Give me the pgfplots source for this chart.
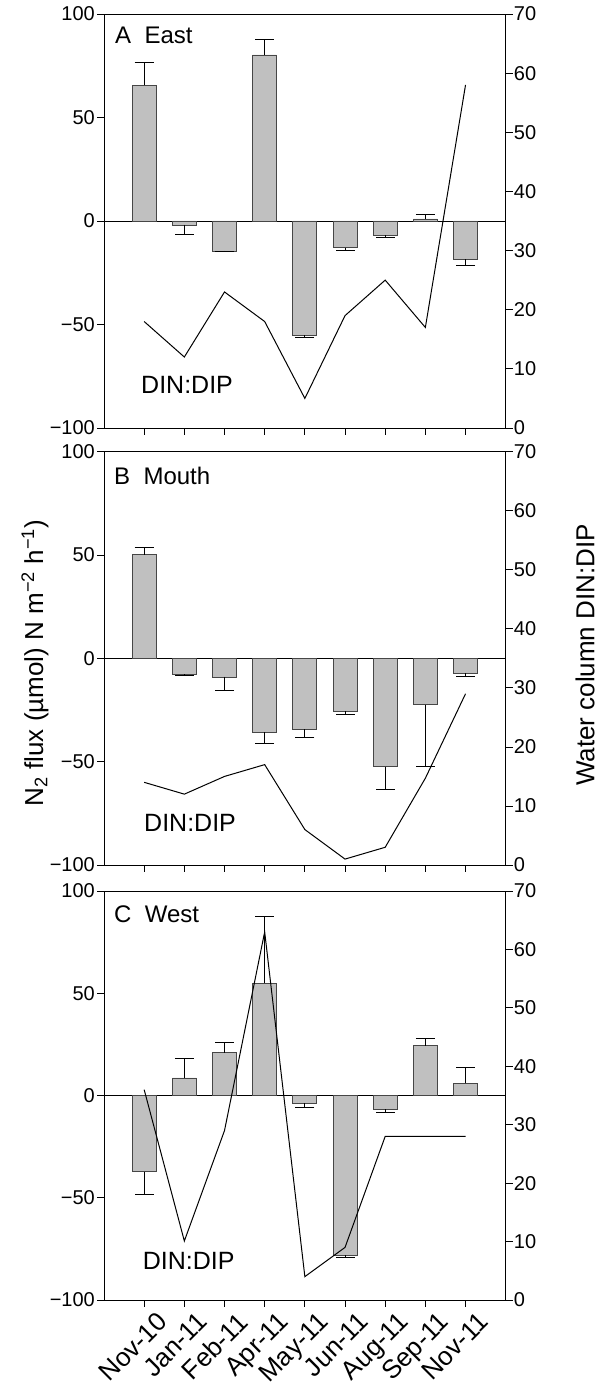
\documentclass[border=0pt]{standalone}
\usepackage{fontspec}
\setmainfont{Liberation Sans}
\usepackage{pgfplots}
\pgfplotsset{compat=1.18}
\definecolor{barfill}{RGB}{192,192,192}
\definecolor{baredge}{RGB}{70,70,70}
\pgfplotsset{
  common/.style={
    anchor=south west, scale only axis, width=401.7pt,
    xmin=-1, xmax=9, xtick={0,...,8},
    tick align=outside, major tick length=7pt,
    tick style={black, line width=0.8pt},
    axis line style={black, line width=0.8pt},
    /pgf/number format/assume math mode=true,
    tick label style={font=\fontsize{20}{20}\selectfont},
    clip=false,
  },
  leftax/.style={common,
    ymin=-100, ymax=100, ytick={-100,-50,0,50,100},
    yticklabels={−100,−50,0,50,100},
    ytick pos=left, xtick pos=bottom, xticklabels={},
    yticklabel style={inner sep=2pt},
  },
  rightax/.style={common,
    ymin=0, ymax=70, ytick={0,10,...,70},
    hide x axis, axis y line*=right,
    yticklabel style={inner sep=1pt},
  },
  posbar/.style={ybar, bar width=24pt, bar shift=0pt, fill=barfill, draw=baredge, line width=0.8pt,
    error bars/.cd, y dir=plus, y explicit, error mark=-,
    error bar style={black, line width=0.8pt},
    error mark options={rotate=90, black, mark size=9.5pt, line width=0.8pt}},
  negbar/.style={ybar, bar width=24pt, bar shift=0pt, fill=barfill, draw=baredge, line width=0.8pt,
    error bars/.cd, y dir=minus, y explicit, error mark=-,
    error bar style={black, line width=0.8pt},
    error mark options={rotate=90, black, mark size=9.5pt, line width=0.8pt}},
  dinline/.style={black, line width=1pt, mark=none},
}
\newcommand{\plab}{\fontsize{24}{24}\selectfont}
\newcommand{\dlab}{\fontsize{25}{25}\selectfont}
\begin{document}
\begin{tikzpicture}
\useasboundingbox (0,0) rectangle (600pt,1389pt);
% ---------------- Panel A
\begin{axis}[leftax, at={(104pt,961pt)}, height=414pt]
\draw[black, line width=0.8pt] (axis cs:-1,0) -- (axis cs:9,0);
\addplot[posbar] table[x=x,y=y,y error=e]{
x y e
0 65.5 11.3
3 80.2 7.5
7 1.0 2.2
};
\addplot[negbar] table[x=x,y=y,y error=e]{
x y e
1 -1.9 4.6
2 -14.5 0
4 -55.3 0.7
5 -12.9 1.3
6 -6.8 0.9
8 -18.5 3.1
};
\node[anchor=base west, font=\plab, inner sep=0pt, xshift=11pt, yshift=-29.3pt] at (rel axis cs:0,1) {A\ \ East};
\node[anchor=base west, font=\dlab, inner sep=0pt, xshift=37pt, yshift=34.7pt] at (rel axis cs:0,0) {DIN:DIP};
\end{axis}
\begin{axis}[rightax, at={(104pt,961pt)}, height=414pt]
\addplot[dinline] coordinates {(0,18) (1,12) (2,23) (3,18) (4,5) (5,19) (6,25) (7,17) (8,58)};
\end{axis}
% ---------------- Panel B
\begin{axis}[leftax, at={(104pt,524pt)}, height=413.3pt]
\draw[black, line width=0.8pt] (axis cs:-1,0) -- (axis cs:9,0);
\addplot[posbar] table[x=x,y=y,y error=e]{
x y e
0 50.2 3.3
};
\addplot[negbar] table[x=x,y=y,y error=e]{
x y e
1 -7.7 0.5
2 -9.0 6.6
3 -35.8 5.3
4 -34.2 4.0
5 -25.5 1.6
6 -52.4 11.1
7 -22.4 29.7
8 -7.3 1.4
};
\node[anchor=base west, font=\plab, inner sep=0pt, xshift=10pt, yshift=-33.3pt] at (rel axis cs:0,1) {B\ \ Mouth};
\node[anchor=base west, font=\dlab, inner sep=0pt, xshift=40pt, yshift=33.3pt] at (rel axis cs:0,0) {DIN:DIP};
\end{axis}
\begin{axis}[rightax, at={(104pt,524pt)}, height=413.3pt]
\addplot[dinline] coordinates {(0,14) (1,12) (2,15) (3,17) (4,6) (5,1) (6,3) (7,14.7) (8,29)};
\end{axis}
% ---------------- Panel C
\begin{axis}[leftax, at={(104pt,89pt)}, height=409pt,
  xticklabels={Nov-10,Jan-11,Feb-11,Apr-11,May-11,Jun-11,Aug-11,Sep-11,Nov-11},
  xticklabel style={rotate=45, anchor=north east, inner sep=1pt, xshift=7pt, yshift=-10pt, font=\fontsize{26}{26}\selectfont}]
\draw[black, line width=0.8pt] (axis cs:-1,0) -- (axis cs:9,0);
\addplot[posbar] table[x=x,y=y,y error=e]{
x y e
1 8.6 9.7
2 20.9 4.9
3 54.8 32.7
7 24.3 3.7
8 5.9 7.6
};
\addplot[negbar] table[x=x,y=y,y error=e]{
x y e
0 -37.2 11.0
4 -3.9 2.1
5 -78.1 1.3
6 -6.7 1.4
};
\node[anchor=base west, font=\plab, inner sep=0pt, xshift=10pt, yshift=-31.3pt] at (rel axis cs:0,1) {C\ \ West};
\node[anchor=base west, font=\dlab, inner sep=0pt, xshift=38.7pt, yshift=30.7pt] at (rel axis cs:0,0) {DIN:DIP};
\end{axis}
\begin{axis}[rightax, at={(104pt,89pt)}, height=409pt]
\addplot[dinline] coordinates {(0,36) (1,10.1) (2,29) (3,63) (4,4) (5,9) (6,28) (7,28) (8,28)};
\end{axis}
% axis titles
\node[rotate=90, font=\fontsize{26}{26}\selectfont] at (35pt,726pt) {N\textsubscript{2} flux (µmol) N m\textsuperscript{−2} h\textsuperscript{−1})};
\node[rotate=90, font=\fontsize{26}{26}\selectfont] at (585pt,734pt) {Water column DIN:DIP};
\end{tikzpicture}
\end{document}
